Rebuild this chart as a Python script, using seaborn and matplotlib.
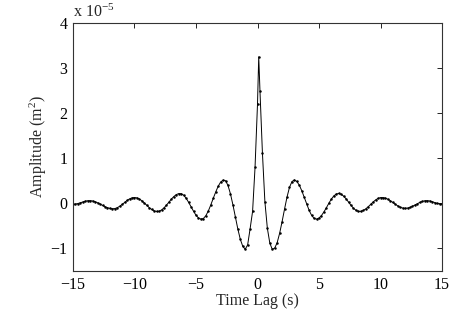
import numpy as np
import pandas as pd
import matplotlib
matplotlib.use("Agg")
import matplotlib.pyplot as plt
import seaborn as sns

# Time lag (s)
time_lag = [
    -15.0, -14.8, -14.6, -14.4, -14.2, -14.0, -13.8, -13.6, -13.4, -13.2,
    -13.0, -12.8, -12.6, -12.4, -12.2, -12.0, -11.8, -11.6, -11.4, -11.2,
    -11.0, -10.8, -10.6, -10.4, -10.2, -10.0, -9.8, -9.6, -9.4, -9.2,
    -9.0, -8.8, -8.6, -8.4, -8.2, -8.0, -7.8, -7.6, -7.4, -7.2,
    -7.0, -6.8, -6.6, -6.4, -6.2, -6.0, -5.8, -5.6, -5.4, -5.2,
    -5.0, -4.8, -4.6, -4.4, -4.2, -4.0, -3.8, -3.6, -3.4, -3.2,
    -3.0, -2.8, -2.6, -2.4, -2.2, -2.0, -1.8, -1.6, -1.4, -1.2,
    -1.0, -0.8, -0.6, -0.4, -0.2, 0.0, 0.1, 0.2, 0.4, 0.6,
    0.8, 1.0, 1.2, 1.4, 1.6, 1.8, 2.0, 2.2, 2.4, 2.6,
    2.8, 3.0, 3.2, 3.4, 3.6, 3.8, 4.0, 4.2, 4.4, 4.6,
    4.8, 5.0, 5.2, 5.4, 5.6, 5.8, 6.0, 6.2, 6.4, 6.6,
    6.8, 7.0, 7.2, 7.4, 7.6, 7.8, 8.0, 8.2, 8.4, 8.6,
    8.8, 9.0, 9.2, 9.4, 9.6, 9.8, 10.0, 10.2, 10.4, 10.6,
    10.8, 11.0, 11.2, 11.4, 11.6, 11.8, 12.0, 12.2, 12.4, 12.6,
    12.8, 13.0, 13.2, 13.4, 13.6, 13.8, 14.0, 14.2, 14.4, 14.6,
    14.8, 15.0,
]

# Amplitude in units of 1e-5 m^2
amplitude = [
    -0.020, -0.016, -0.004, 0.013, 0.032, 0.048, 0.058, 0.060, 0.052, 0.036,
    0.013, -0.015, -0.045, -0.073, -0.096, -0.112, -0.120, -0.116, -0.096, -0.064,
    -0.023, 0.022, 0.065, 0.100, 0.122, 0.130, 0.121, 0.096, 0.057, 0.008,
    -0.045, -0.095, -0.136, -0.166, -0.179, -0.174, -0.146, -0.099, -0.039, 0.029,
    0.095, 0.152, 0.195, 0.217, 0.215, 0.180, 0.113, 0.023, -0.078, -0.175,
    -0.263, -0.322, -0.349, -0.336, -0.274, -0.170, -0.037, 0.111, 0.250, 0.378,
    0.471, 0.516, 0.503, 0.398, 0.212, -0.031, -0.305, -0.567, -0.795, -0.951,
    -1.018, -0.920, -0.560, -0.180, 0.800, 2.200, 3.250, 2.500, 1.120, 0.040,
    -0.550, -0.880, -1.020, -0.992, -0.870, -0.663, -0.404, -0.125, 0.140, 0.355,
    0.483, 0.520, 0.485, 0.403, 0.280, 0.134, -0.017, -0.157, -0.266, -0.333,
    -0.350, -0.326, -0.270, -0.190, -0.097, 0.002, 0.093, 0.164, 0.207, 0.220,
    0.202, 0.160, 0.101, 0.030, -0.043, -0.107, -0.154, -0.178, -0.177, -0.157,
    -0.122, -0.075, -0.023, 0.030, 0.076, 0.110, 0.128, 0.128, 0.116, 0.091,
    0.058, 0.020, -0.020, -0.055, -0.086, -0.104, -0.110, -0.105, -0.090, -0.065,
    -0.037, -0.007, 0.021, 0.043, 0.057, 0.060, 0.053, 0.038, 0.018, -0.001,
    -0.015, -0.020,
]

x_ticks = [-15, -10, -5, 0, 5, 10, 15]
y_ticks = [-1, 0, 1, 2, 3, 4]

df = pd.DataFrame({"lag": time_lag, "amp": amplitude})

sns.set_theme(style="white")
plt.rcParams["font.family"] = ["Liberation Serif", "DejaVu Serif"]
plt.rcParams["mathtext.fontset"] = "custom"
plt.rcParams["mathtext.rm"] = "Liberation Serif"
plt.rcParams["mathtext.it"] = "Liberation Serif:italic"

fig = plt.figure(figsize=(4.63, 3.11), dpi=100)
ax = fig.add_axes([73 / 463, 1 - 271 / 311, (442 - 73) / 463, (271 - 23) / 311])

sns.lineplot(data=df, x="lag", y="amp", ax=ax, color="black", linewidth=0.7,
             marker="o", markersize=1.8, markeredgewidth=0, sort=False)

ax.set_xlim(-15, 15)
ax.set_ylim(-1.5, 4)
ax.set_xticks(x_ticks)
ax.set_yticks(y_ticks)
ax.set_xticklabels([str(t).replace("-", "\u2212") for t in x_ticks])
ax.set_yticklabels([str(t).replace("-", "\u2212") for t in y_ticks])
ax.tick_params(direction="in", length=3.5, width=0.6, top=True, right=True,
               labelsize=11.5, colors="black")
ax.tick_params(axis="x", pad=4)
ax.tick_params(axis="y", pad=4)
for s in ax.spines.values():
    s.set_visible(True)
    s.set_color("#333333")
    s.set_linewidth(0.8)

ax.set_xlabel("Time Lag (s)", fontsize=11.5, labelpad=0)
ax.set_ylabel("Amplitude (m$^2$)", fontsize=11.5, labelpad=1)
ax.text(0.0, 1.01, "x 10$^{-5}$", transform=ax.transAxes, fontsize=11.5,
        ha="left", va="bottom")

fig.savefig("out.png", dpi=100, facecolor="white")
